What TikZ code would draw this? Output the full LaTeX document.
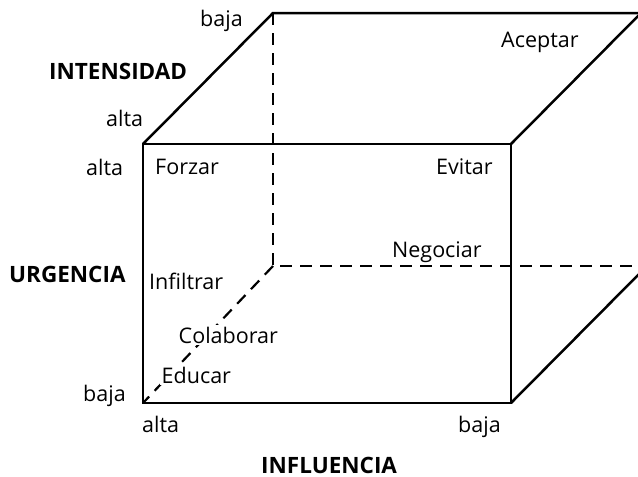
\documentclass[tikz,border=0pt]{standalone}
\usepackage{fontspec}
\setmainfont{Open Sans}
\usepackage{tikz}

\begin{document}
\begin{tikzpicture}[x=1pt, y=-1pt,
  label text/.style={font=\fontsize{21.5}{26}\selectfont, inner sep=0pt, anchor=base west},
  axis title/.style={label text, font=\fontsize{22.5}{27}\selectfont\bfseries},
  over hidden/.style={label text, fill=white, inner sep=1.5pt},
  cube edge/.style={line width=2.5pt, line join=miter},
  hidden edge/.style={line width=2.2pt, dash pattern=on 12pt off 8pt}]

      \useasboundingbox (0,0) rectangle (638,477);
      \clip (0,0) rectangle (638,477);

      \coordinate (front-tl) at (143,144);
      \coordinate (front-tr) at (511,144);
      \coordinate (front-bl) at (143,403);
      \coordinate (front-br) at (511,403);
      \coordinate (back-tl) at (273,13);
      \coordinate (back-tr) at (641,13);
      \coordinate (back-bl) at (273,266);
      \coordinate (back-br) at (641,266);
      \coordinate (back-brs) at (641,272);

      \draw [hidden edge] (back-tl) -- (back-bl) -- (back-br);
      \draw [hidden edge] (back-bl) -- (front-bl);

      \draw [cube edge] (front-tl) rectangle (front-br);
      \draw [cube edge] (front-tl) -- (back-tl) -- (back-tr);
      \draw [cube edge] (front-tr) -- (back-tr);
      \draw [cube edge] (front-br) -- (back-brs);

      \foreach \n/\x/\y/\t in {bajatop/200/26/baja, altaup/106/126/alta,
        altaleft/86/175/alta, forzar/155/174/Forzar, evitar/436/174/Evitar,
        aceptar/501/47/Aceptar, negociar/392/257/Negociar,
        infiltrar/149/289/Infiltrar, bajaleft/83/401/baja,
        altabottom/142/432/alta, bajaright/458/432/baja}
      \node [label text] (lbl-\n) at (\x,\y) {\t};

      \node [over hidden] (lbl-colaborar) at (177,343) {Colaborar};
      \node [over hidden] (lbl-educar) at (160,383) {Educar};

      \node [axis title] (title-intensidad) at (49,79) {INTENSIDAD};
      \node [axis title] (title-urgencia) at (9,282) {URGENCIA};
      \node [axis title] (title-influencia) at (261,473) {INFLUENCIA};

    \end{tikzpicture}
\end{document}
